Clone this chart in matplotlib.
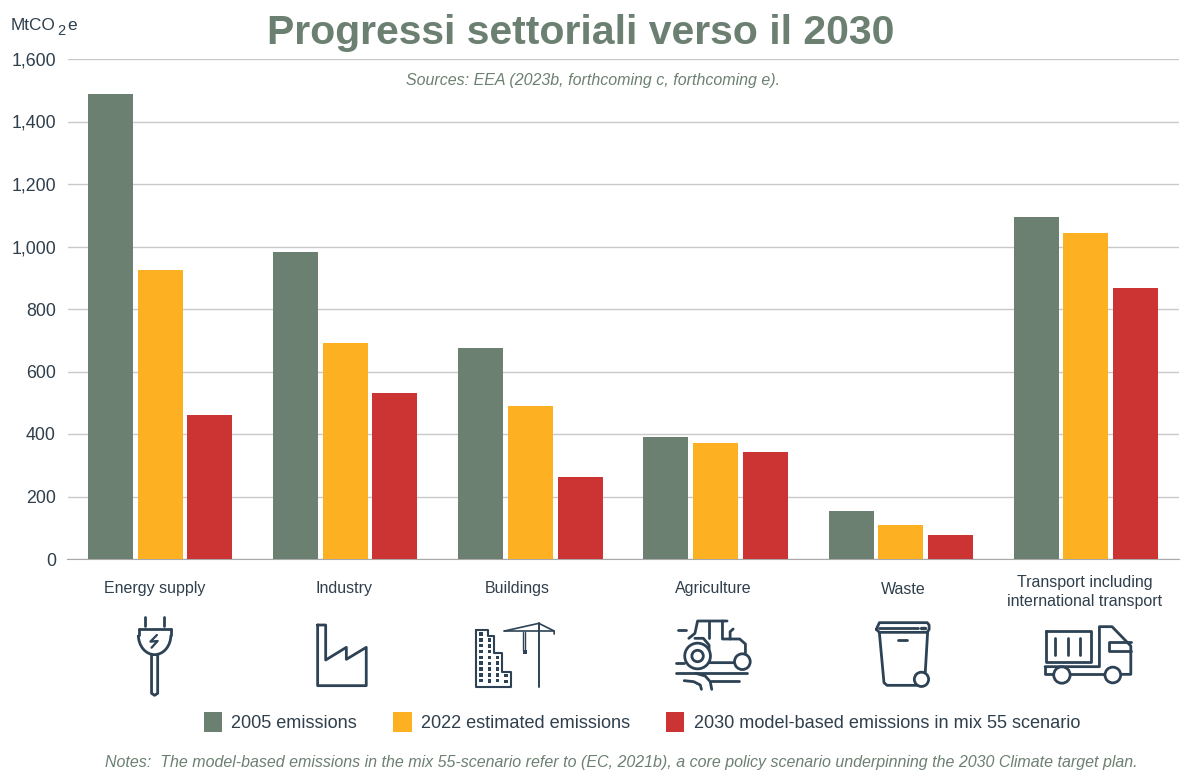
#!/usr/bin/env python3
"""
Sector emissions towards 2030: grouped bars with hand drawn sector icons.
"""
import numpy as np
import matplotlib
matplotlib.use("Agg")
import matplotlib.pyplot as plt
from matplotlib.patches import Circle, Rectangle, Arc

plt.rcParams["font.family"] = ["Liberation Sans", "DejaVu Sans"]

categories = ["Energy supply", "Industry", "Buildings", "Agriculture", "Waste",
              "Transport including\ninternational transport"]
emissions_2005 = [1489, 981, 676, 390, 154, 1096]
emissions_2022 = [925, 691, 489, 372, 108, 1043]
emissions_2030 = [461, 531, 264, 342, 76, 867]
series_labels = ["2005 emissions", "2022 estimated emissions",
                 "2030 model-based emissions in mix 55 scenario"]
y_ticks = [0, 200, 400, 600, 800, 1000, 1200, 1400, 1600]

GREEN = "#6c8072"
ORANGE = "#fdb022"
RED = "#cc3333"
INK = "#2d4254"
TEXT = "#2f3f4c"
W, H = 1200, 776
SX, SY = 2.613, 3.0

fig = plt.figure(figsize=(W / 100, H / 100), dpi=100, facecolor="white")

# plot area in pixels: x 67.5-1178.5, y 59-559
ax = fig.add_axes([67.5 / W, 1 - 559 / H, 1111 / W, 500 / H])
x = np.arange(len(categories))
step = 0.268
width = 0.243
all_series = [emissions_2005, emissions_2022, emissions_2030]
handles = []
for i, (vals, col) in enumerate(zip(all_series, [GREEN, ORANGE, RED])):
    handles.append(ax.bar(x + (i - 1) * step, vals, width, color=col, zorder=3))

ax.set_xlim(-0.5, 5.5)
ax.set_ylim(0, 1600)
ax.set_yticks(y_ticks)
ax.set_yticklabels([f"{v:,}" for v in y_ticks], fontsize=12.8, color=TEXT)
ax.set_xticks([])
ax.tick_params(axis="y", length=0, pad=8.3)
ax.grid(axis="y", color="#c9c9c9", lw=1, zorder=0)
for s in ["top", "right", "left"]:
    ax.spines[s].set_visible(False)
ax.spines["bottom"].set_color("#a9a9a9")

# overlay in image pixels for texts and icons
ov = fig.add_axes([0, 0, 1, 1], facecolor="none")
ov.set_xlim(0, W)
ov.set_ylim(H, 0)
ov.axis("off")

ov.text(581, 33, "Progressi settoriali verso il 2030", fontsize=29.5, fontweight="bold",
        color=GREEN, ha="center", va="center")
ov.text(593, 80, "Sources: EEA (2023b, forthcoming c, forthcoming e).", fontsize=11.5,
        style="italic", color=GREEN, ha="center", va="center")
ov.text(11, 25, "MtCO", fontsize=12.4, color=TEXT, ha="left", va="center")
ov.text(57.5, 31, "2", fontsize=10.5, color=TEXT, ha="left", va="center")
ov.text(67.5, 25, "e", fontsize=12.4, color=TEXT, ha="left", va="center")
ov.text(621, 762, "Notes:  The model-based emissions in the mix 55-scenario refer to (EC, 2021b), "
        "a core policy scenario underpinning the 2030 Climate target plan.",
        fontsize=11.5, style="italic", color=GREEN, ha="center", va="center")

label_x = [155, 344, 517, 713, 903, 1085]
label_y = [589, 589, 589, 589, 590, 592]
for name, lx, ly in zip(categories, label_x, label_y):
    ov.text(lx, ly, name, fontsize=11.5, color=TEXT, ha="center", va="center", linespacing=1.3)

fig.legend([h[0] for h in handles], series_labels, loc="center", bbox_to_anchor=(642 / W, 1 - 722 / H),
           ncol=3, frameon=False, fontsize=13.1, handlelength=1.0, handleheight=1.35,
           handletextpad=0.5, columnspacing=2.0, labelcolor=TEXT)


def path(px, py, ox=0, oy=570, lw=2.0, close=False, col=INK):
    """Polyline given in crop coordinates."""
    xs = [ox + v / SX for v in px]
    ys = [oy + v / SY for v in py]
    if close:
        xs.append(xs[0])
        ys.append(ys[0])
    ov.plot(xs, ys, color=col, lw=lw, solid_capstyle="round", solid_joinstyle="round")


def ring(cx, cy, r, ox=0, oy=570, lw=2.0):
    ov.add_patch(Circle((ox + cx / SX, oy + cy / SY), r / 2.8, fc="white", ec=INK, lw=lw, zorder=4))


# plug
path([378, 378], [140, 168])
path([428, 428], [140, 168])
path([362, 447], [177, 177])
ov.add_patch(Arc((404 / SX, 570 + 195 / SY), 85 / SX, 118 / SY, theta1=0, theta2=180, ec=INK, lw=2))
path([362, 362], [177, 195])
path([447, 447], [177, 195])
path([396, 396, 404, 412, 412], [255, 370, 376, 370, 255])
path([410, 393, 412, 396], [195, 215, 213, 233], lw=1.6)

# factory
path([830, 851, 851, 905, 905, 957, 957, 830], [165, 165, 270, 232, 268, 232, 347, 347], close=True)

# buildings and crane
path([1243, 1275, 1275, 1291, 1291, 1312, 1312, 1336, 1336, 1243],
     [180, 180, 197, 197, 250, 250, 305, 305, 351, 351], close=True, lw=1.5)
for wx, top in zip([1257, 1279, 1300, 1322], [192, 210, 262, 317]):
    for wy in np.arange(top, 345, 17.5):
        ov.add_patch(Rectangle((wx / SX - 1.7, 570 + wy / SY - 1.7), 3.4, 3.4, fc=INK, ec="none"))
path([1408, 1408], [160, 351], lw=1.4)
path([1318, 1448], [183, 183], lw=1.2)
path([1318, 1408, 1448, 1448], [183, 160, 183, 192], lw=1.2)
path([1367, 1367], [185, 240], lw=1.0)
path([1373, 1373], [185, 240], lw=1.0)
ov.add_patch(Rectangle((1366 / SX, 570 + 241 / SY), 4, 4, fc=INK, ec="none"))

# tractor
ox = 600
path([205, 224], [180, 180], ox=ox)
path([232, 248, 255, 332], [205, 190, 153, 153], ox=ox)
path([285, 285], [153, 205], ox=ox)
path([320, 320, 365, 380, 380], [153, 207, 207, 222, 250], ox=ox)
path([340, 340, 348], [207, 185, 177], ox=ox)
path([248, 270, 285, 285, 350], [205, 205, 225, 278, 278], ox=ox)
path([198, 220], [278, 278], ox=ox)
path([198, 385], [308, 308], ox=ox)
path([290, 362], [332, 332], ox=ox)
path([220, 245, 262, 265], [332, 335, 345, 358], ox=ox)
path([250, 275, 288, 292], [310, 318, 335, 358], ox=ox)
ring(255, 258, 36, ox=ox)
ring(255, 258, 16, ox=ox)
ring(372, 275, 22, ox=ox)

# bin
path([730, 742, 750, 835], [188, 338, 346, 346], ox=ox)
path([856, 850], [188, 306], ox=ox)
path([722, 730, 855, 860, 860, 855, 730, 722], [178, 158, 158, 165, 178, 187, 187, 178], ox=ox)
path([730, 830], [174, 174], ox=ox)
path([840, 850], [173, 173], ox=ox, lw=2.4)
path([778, 803], [210, 210], ox=ox)
ring(840, 328, 20, ox=ox)

# truck
path([1165, 1282, 1282, 1165], [183, 183, 277, 277], ox=ox, close=True)
for tx in [1190, 1222, 1255]:
    path([tx, tx], [203, 255], ox=ox)
path([1163, 1305, 1305, 1338, 1387, 1387, 1362], [290, 290, 170, 170, 228, 313, 313], ox=ox)
path([1163, 1163, 1185], [290, 313, 313], ox=ox)
path([1230, 1318], [313, 313], ox=ox)
path([1387, 1330, 1330, 1387], [215, 215, 243, 243], ox=ox)
ring(1207, 315, 23, ox=ox)
ring(1340, 315, 22, ox=ox)

fig.savefig("out.png", dpi=100)
